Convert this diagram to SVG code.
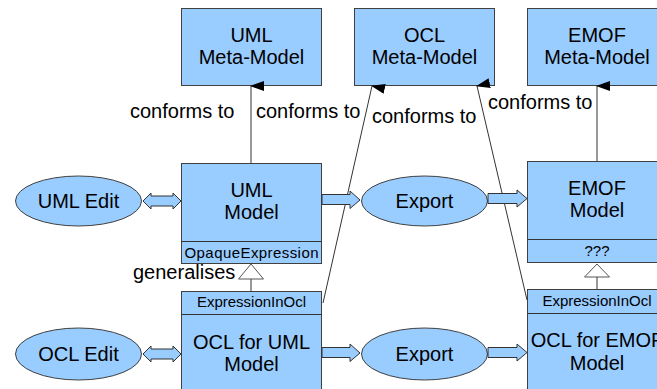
<svg xmlns="http://www.w3.org/2000/svg" width="657" height="389" viewBox="0 0 657 389">
<style>
.box{fill:#99ccff;stroke:#404040;stroke-width:1}
.ell{fill:#99ccff;stroke:#404040;stroke-width:1}
.t{font-family:"Liberation Sans",Arial,sans-serif;font-size:20px;fill:#000;text-anchor:middle}
.s{font-family:"Liberation Sans",Arial,sans-serif;font-size:15px;fill:#000;text-anchor:middle}
.lbl{font-family:"Liberation Sans",Arial,sans-serif;font-size:20px;fill:#000}
.ln{stroke:#333;stroke-width:1;fill:none}
.blk{fill:#99ccff;stroke:#333;stroke-width:1}
.gen{fill:#fff;stroke:#555;stroke-width:1}
</style>
<defs>
<marker id="ah" markerWidth="10" markerHeight="14" refX="5" refY="1" orient="auto-start-reverse" markerUnits="userSpaceOnUse" viewBox="0 0 10 14">
<path d="M5,0 L10,14 L0,14 Z" fill="#000"/>
</marker>
</defs>
<rect width="657" height="389" fill="#fff"/>
<g id="uml-meta"><rect class="box" x="181.5" y="8.5" width="140" height="77"/><text class="t" x="251.5" y="42">UML</text><text class="t" x="251.5" y="64">Meta-Model</text></g>
<g id="ocl-meta"><rect class="box" x="354.5" y="8.5" width="140" height="77"/><text class="t" x="424.5" y="42">OCL</text><text class="t" x="424.5" y="64">Meta-Model</text></g>
<g id="emof-meta"><rect class="box" x="527.5" y="8.5" width="140" height="77"/><text class="t" x="597" y="42">EMOF</text><text class="t" x="597" y="64">Meta-Model</text></g>
<g id="uml-model"><rect class="box" x="181.5" y="163.5" width="140" height="100"/><line class="ln" x1="181.5" y1="241.5" x2="321.5" y2="241.5"/><text class="t" x="251.5" y="197">UML</text><text class="t" x="251.5" y="219">Model</text><text class="s" x="251.5" y="258" textLength="134" lengthAdjust="spacing">OpaqueExpression</text></g>
<g id="emof-model"><rect class="box" x="527.5" y="161.5" width="140" height="101"/><line class="ln" x1="527.5" y1="239.5" x2="667.5" y2="239.5"/><text class="t" x="597" y="195">EMOF</text><text class="t" x="597" y="217">Model</text><text class="s" x="597" y="256">???</text></g>
<g id="ocl-uml"><rect class="box" x="181.5" y="291.5" width="140" height="110"/><line class="ln" x1="181.5" y1="314.5" x2="321.5" y2="314.5"/><text class="s" x="251.5" y="307">ExpressionInOcl</text><text class="t" x="251.5" y="349">OCL for UML</text><text class="t" x="251.5" y="371">Model</text></g>
<g id="ocl-emof"><rect class="box" x="527.5" y="289.5" width="140" height="110"/><line class="ln" x1="527.5" y1="313.5" x2="667.5" y2="313.5"/><text class="s" x="597" y="306">ExpressionInOcl</text><text class="t" x="597" y="347">OCL for EMOF</text><text class="t" x="597" y="370">Model</text></g>
<g id="uml-edit"><ellipse class="ell" cx="78.5" cy="201" rx="63" ry="25"/><text class="t" x="78.5" y="208">UML Edit</text></g>
<g id="ocl-edit"><ellipse class="ell" cx="78.5" cy="354" rx="63" ry="26"/><text class="t" x="78.5" y="361">OCL Edit</text></g>
<g id="export1"><ellipse class="ell" cx="424.5" cy="201" rx="63" ry="25"/><text class="t" x="424.5" y="208">Export</text></g>
<g id="export2"><ellipse class="ell" cx="424.5" cy="354" rx="63" ry="26"/><text class="t" x="424.5" y="361">Export</text></g>
<g id="connectors">
<line class="ln" x1="251" y1="163" x2="251" y2="86" marker-end="url(#ah)"/>
<line class="ln" x1="597" y1="161" x2="597" y2="86" marker-end="url(#ah)"/>
<line class="ln" x1="323" y1="303" x2="372" y2="86" marker-end="url(#ah)"/>
<line class="ln" x1="527" y1="300" x2="477" y2="86" marker-end="url(#ah)"/>
<path class="blk" d="M143,201 L151,193 L151,196 L173,196 L173,193 L181,201 L173,209 L173,206 L151,206 L151,209 Z"/>
<path class="blk" d="M143,354 L151,346 L151,349 L173,349 L173,346 L181,354 L173,362 L173,359 L151,359 L151,362 Z"/>
<path class="blk" d="M322,194.5 L350,194.5 L350,191 L360,200 L350,208.5 L350,204.5 L322,204.5 Z"/>
<path class="blk" d="M322,347.5 L350,347.5 L350,344 L360,353 L350,361.5 L350,357.5 L322,357.5 Z"/>
<path class="blk" d="M488,193.5 L517,193.5 L517,190 L527,198.5 L517,207 L517,203.5 L488,203.5 Z"/>
<path class="blk" d="M488,347.5 L517,347.5 L517,344 L527,352.5 L517,361 L517,357.5 L488,357.5 Z"/>
<line class="ln" x1="251" y1="279" x2="251" y2="291"/>
<path class="gen" d="M251,264 L263.5,279 L238.5,279 Z"/>
<line class="ln" x1="597" y1="277" x2="597" y2="289"/>
<path class="gen" d="M597,264 L609.5,277 L584.5,277 Z"/>
<text class="lbl" x="130" y="118">conforms to</text>
<text class="lbl" x="256" y="118">conforms to</text>
<text class="lbl" x="372" y="123">conforms to</text>
<text class="lbl" x="488" y="109">conforms to</text>
<text class="lbl" x="133" y="279">generalises</text>
</g>
</svg>
